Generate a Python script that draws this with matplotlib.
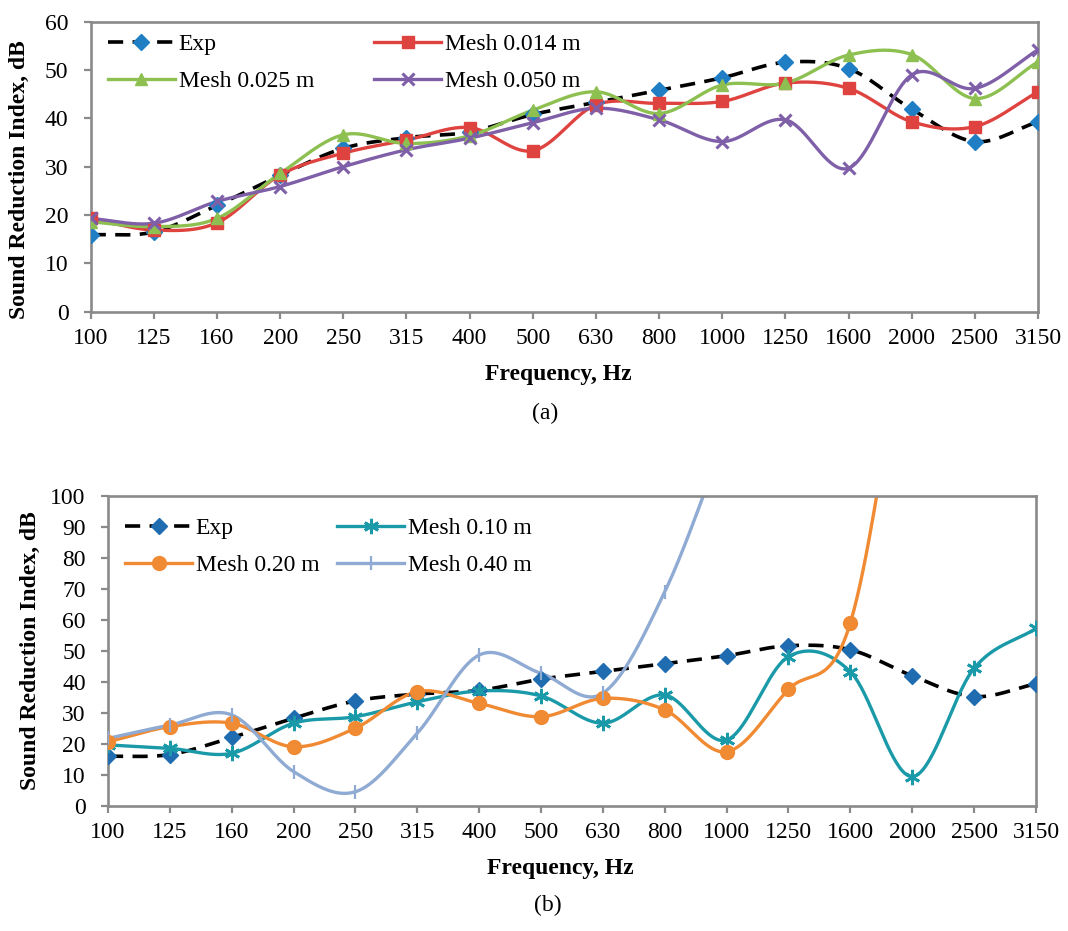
import numpy as np
import matplotlib
matplotlib.use("Agg")
import matplotlib.pyplot as plt
from matplotlib.lines import Line2D

plt.rcParams['font.family'] = ['Liberation Serif', 'DejaVu Serif']

freqs = ['100', '125', '160', '200', '250', '315', '400', '500', '630',
         '800', '1000', '1250', '1600', '2000', '2500', '3150']

exp_vals = [15.9, 16.5, 22.0, 28.2, 33.8, 36.0, 37.2, 40.8, 43.3,
            45.8, 48.4, 51.6, 50.3, 41.9, 35.2, 39.3]

# chart (a)
mesh_0014 = [19.3, 16.9, 18.4, 28.3, 32.8, 35.5, 38.1, 33.3, 42.8,
             43.1, 43.5, 47.3, 46.2, 39.3, 38.3, 45.5]
mesh_0025 = [18.6, 17.6, 19.3, 28.6, 36.6, 34.8, 36.4, 41.7, 45.5,
             41.0, 46.9, 47.3, 53.1, 53.2, 44.1, 51.7]
mesh_0050 = [19.3, 18.3, 22.8, 25.9, 30.0, 33.5, 35.9, 39.1, 42.1,
             39.7, 35.2, 39.7, 29.7, 49.0, 46.2, 54.2]

# chart (b) -- values beyond the 100 dB axis limit are estimates of off-scale points
mesh_010 = [19.6, 18.5, 16.9, 26.6, 28.7, 33.5, 37.0, 35.4, 26.6,
            35.7, 21.2, 48.1, 43.2, 9.4, 44.3, 57.2]
mesh_020 = [20.6, 25.5, 26.6, 19.0, 25.0, 36.8, 33.0, 28.7, 34.6,
            30.9, 17.4, 37.5, 59.0, 170.0]
mesh_040 = [21.7, 26.0, 29.3, 11.0, 4.5, 23.4, 48.6, 42.7, 36.3,
            69.0, 120.0]

C_EXP_A = '#1F7EC4'
C_EXP_B = '#1F6DB0'
C_RED = '#DF4340'
C_GREEN = '#8DC050'
C_PURPLE = '#7E5FA8'
C_TEAL = '#1A9AA8'
C_ORANGE = '#F08A33'
C_LBLUE = '#8FAAD3'
C_AXIS = '#8A8A8A'

FS = 17


def smooth(y, n=40):
    """Catmull-Rom (Excel-like) smoothing through the given points."""
    y = np.asarray(y, float)
    x = np.arange(len(y), dtype=float)
    m = np.zeros_like(y)
    if len(y) > 2:
        m[1:-1] = (y[2:] - y[:-2]) / 2.0
    m[0] = y[1] - y[0]
    m[-1] = y[-1] - y[-2]
    xs, ys = [], []
    t = np.linspace(0, 1, n)
    h00 = 2 * t**3 - 3 * t**2 + 1
    h10 = t**3 - 2 * t**2 + t
    h01 = -2 * t**3 + 3 * t**2
    h11 = t**3 - t**2
    for i in range(len(y) - 1):
        xs.append(x[i] + t)
        ys.append(h00 * y[i] + h10 * m[i] + h01 * y[i + 1] + h11 * m[i + 1])
    return np.concatenate(xs), np.concatenate(ys)


def draw(ax, vals, color, marker, ms, lw=2.4, ls='-', mcolor=None, mew=1.0,
         dashes=None):
    mcolor = mcolor or color
    xs, ys = smooth(vals)
    line, = ax.plot(xs, ys, color=color, lw=lw, ls=ls, solid_capstyle='round',
                    zorder=2)
    if dashes is not None:
        line.set_dashes(dashes)
        line.set_dash_capstyle('butt')
    ax.plot(np.arange(len(vals)), vals, ls='none', marker=marker, ms=ms,
            color=mcolor, mec=mcolor, mew=mew, zorder=3)
    h = Line2D([], [], color=color, lw=lw, marker=marker, ms=ms,
               markerfacecolor=mcolor, markeredgecolor=mcolor, mew=mew)
    if dashes is not None:
        h.set_dashes(dashes)
        h.set_dash_capstyle('butt')
    return h


def style_axes(ax, ymax, ystep):
    ax.set_xlim(0, len(freqs) - 1)
    ax.set_ylim(0, ymax)
    ax.set_xticks(np.arange(len(freqs)))
    ax.set_xticklabels(freqs)
    ax.set_yticks(np.arange(0, ymax + 1, ystep))
    for s in ax.spines.values():
        s.set_color(C_AXIS)
        s.set_linewidth(1.9)
    ax.tick_params(axis='both', direction='out', length=5, width=1.6,
                   color=C_AXIS, labelsize=FS)
    ax.tick_params(axis='x', pad=7)
    ax.tick_params(axis='y', pad=11)
    ax.set_xlabel('Frequency, Hz', fontsize=FS, fontweight='bold', va='center')
    ax.set_ylabel('Sound Reduction Index, dB', fontsize=FS, fontweight='bold',
                  va='center')


fig = plt.figure(figsize=(10.68, 9.31), dpi=100)

# ---------------- (a) ----------------
axa = fig.add_axes([0.0849, 0.6652, 0.8871, 0.3115])
style_axes(axa, 60, 10)
h_exp = draw(axa, exp_vals, 'black', 'D', 8, lw=2.6, mcolor=C_EXP_A,
             dashes=(4.2, 2.6))
h14 = draw(axa, mesh_0014, C_RED, 's', 9)
h25 = draw(axa, mesh_0025, C_GREEN, '^', 9)
h50 = draw(axa, mesh_0050, C_PURPLE, 'x', 9, mew=2.2)
axa.legend([h_exp, h25, h14, h50],
           ['Exp', 'Mesh 0.025 m', 'Mesh 0.014 m', 'Mesh 0.050 m'],
           ncol=2, loc='upper left', bbox_to_anchor=(0.003, 1.008),
           frameon=False, fontsize=FS, handlelength=2.85, handletextpad=0.15,
           columnspacing=2.55, labelspacing=0.65, borderaxespad=0.2)
axa.yaxis.set_label_coords(-0.0747, 0.456)
axa.xaxis.set_label_coords(0.4935, -0.215)

# ---------------- (b) ----------------
axb = fig.add_axes([0.1011, 0.1346, 0.8689, 0.3330])
style_axes(axb, 100, 10)
h_exp2 = draw(axb, exp_vals, 'black', 'D', 8, lw=2.6, mcolor=C_EXP_B,
              dashes=(4.2, 2.6))
h10 = draw(axb, mesh_010, C_TEAL, (6, 2, 0), 11, mew=2.0)
h20 = draw(axb, mesh_020, C_ORANGE, 'o', 10)
h40 = draw(axb, mesh_040, C_LBLUE, '|', 10, mew=1.6)
axb.legend([h_exp2, h20, h10, h40],
           ['Exp', 'Mesh 0.20 m', 'Mesh 0.10 m', 'Mesh 0.40 m'],
           ncol=2, loc='upper left', bbox_to_anchor=(0.003, 0.975),
           frameon=False, fontsize=FS, handlelength=2.85, handletextpad=0.15,
           columnspacing=0.75, labelspacing=0.65, borderaxespad=0.2)
axb.yaxis.set_label_coords(-0.084, 0.5)
axb.xaxis.set_label_coords(0.487, -0.204)

fig.text(545 / 1068, 1 - 413 / 931, '(a)', fontsize=FS, ha='center', va='center')
fig.text(548 / 1068, 1 - 905 / 931, '(b)', fontsize=FS, ha='center', va='center')

fig.savefig('out.png', dpi=100)
